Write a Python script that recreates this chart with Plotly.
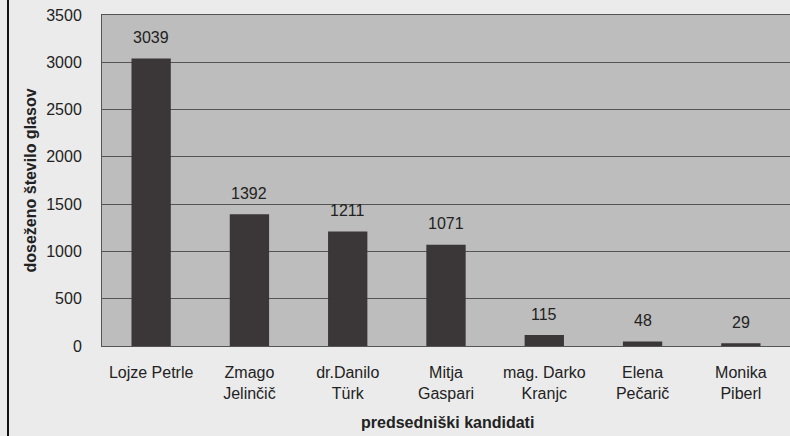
import plotly.graph_objects as go

candidates = ["Lojze Petrle", "Zmago<br>Jelinčič", "dr.Danilo<br>Türk", "Mitja<br>Gaspari",
              "mag. Darko<br>Kranjc", "Elena<br>Pečarič", "Monika<br>Piberl"]
votes = [3039, 1392, 1211, 1071, 115, 48, 29]
y_ticks = [0, 500, 1000, 1500, 2000, 2500, 3000, 3500]

font = "Liberation Sans, Arial, sans-serif"
W, H = 790, 436
ML, MR, MT, MB = 102, 0, 15, 90
PW, PH = W - ML - MR, H - MT - MB

fig = go.Figure(go.Bar(
    x=candidates, y=votes,
    marker=dict(color="#3b3638", line=dict(width=0)),
    hoverinfo="x+y",
))

for c, v in zip(candidates, votes):
    fig.add_annotation(x=c, y=v, text=str(v), showarrow=False, yshift=21,
                       yanchor="middle", font=dict(family=font, size=16, color="#222"))

fig.add_annotation(xref="paper", yref="paper", x=(30 - ML) / PW, y=0.5, textangle=-90,
                   text="<b>doseženo število glasov</b>", showarrow=False,
                   xanchor="center", yanchor="middle", font=dict(family=font, size=16, color="#222"))
fig.add_annotation(xref="paper", yref="paper", x=(447 - ML) / PW, y=(MT + PH - 422) / PH,
                   text="<b>predsedniški kandidati</b>", showarrow=False,
                   xanchor="center", yanchor="middle", font=dict(family=font, size=16, color="#222"))

fig.update_layout(
    width=W, height=H,
    margin=dict(l=ML, r=MR, t=MT, b=MB, autoexpand=False),
    paper_bgcolor="#ebebeb",
    plot_bgcolor="#bdbdbd",
    bargap=0.6,
    showlegend=False,
    font=dict(family=font, size=16, color="#222"),
    xaxis=dict(
        showgrid=False, ticks="", tickfont=dict(size=16, color="#222"), automargin=False,
        showline=True, linecolor="#555", linewidth=1, mirror=True, ticklabelstandoff=12,
    ),
    yaxis=dict(
        range=[0, 3500], tickvals=y_ticks, showgrid=True, gridcolor="#555", gridwidth=1,
        ticks="", tickfont=dict(size=16, color="#222"), ticklabelstandoff=16, automargin=False,
        showline=True, linecolor="#555", linewidth=1, mirror=True, zeroline=False,
    ),
    shapes=[dict(type="line", xref="paper", yref="paper",
                 x0=(8 - ML) / PW, x1=(8 - ML) / PW, y0=-MB / PH, y1=1 + MT / PH,
                 line=dict(color="#111", width=2))],
)

fig.write_html(
    "out.html",
    config={"displayModeBar": False},
    post_script="document.body.style.margin='0';document.body.style.overflow='hidden';",
)
